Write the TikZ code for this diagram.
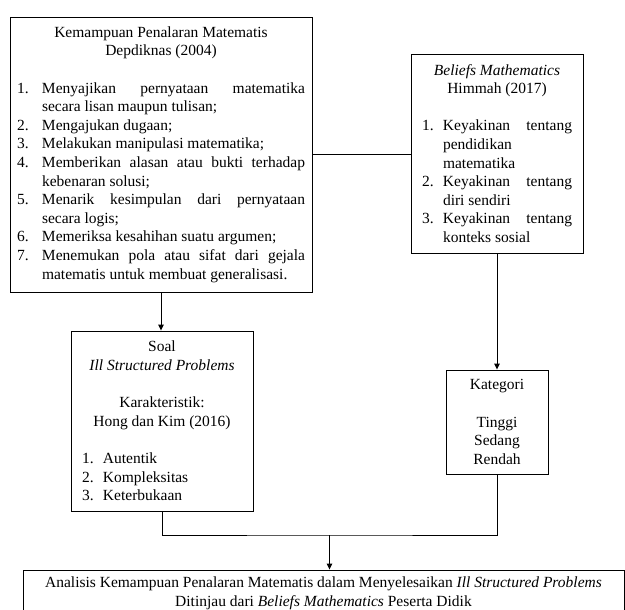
\documentclass[tikz,border=0pt]{standalone}
\usepackage{fontspec}
\setmainfont{Liberation Serif}
\usetikzlibrary{arrows.meta}
\setlength{\parindent}{0pt}
\tolerance=10000
\hbadness=10000
\hyphenpenalty=10000
\exhyphenpenalty=10000
% nomor butir dengan indentasi gantung
\newcommand{\butir}[3]{\par\hangindent=#1\hangafter=1\noindent\makebox[#1][l]{#2}#3\par}
\tikzset{
  kotak/.style={draw, line width=0.9pt, inner sep=0pt, font=\fontsize{15.5}{18.6}\selectfont},
  garis/.style={line width=0.9pt},
}
\begin{document}
\begin{tikzpicture}[x=1pt, y=-1pt, >={Triangle[length=6pt, width=5.5pt]}]
    \useasboundingbox (0,0) rectangle (625,610);
    \clip (0,0) rectangle (625,610);
    % kemampuan penalaran
    \node[kotak, minimum width=302pt, minimum height=275pt, text width=288pt, align=justify] (kemampuan) at (161,154.5) {%
        {\centering Kemampuan Penalaran Matematis\\ Depdiknas (2004)\par}
        \mbox{}\par
        \butir{25pt}{1.}{Menyajikan pernyataan matematika\linebreak secara lisan maupun tulisan;}
        \butir{25pt}{2.}{Mengajukan dugaan;}
        \butir{25pt}{3.}{Melakukan manipulasi matematika;}
        \butir{25pt}{4.}{Memberikan alasan atau bukti terhadap\linebreak kebenaran solusi;}
        \butir{25pt}{5.}{Menarik kesimpulan dari pernyataan\linebreak secara logis;}
        \butir{25pt}{6.}{Memeriksa kesahihan suatu argumen;}
        \butir{25pt}{7.}{Menemukan pola atau sifat dari gejala\linebreak matematis untuk membuat generalisasi.}
    };
    % beliefs mathematics
    \node[kotak, minimum width=172pt, minimum height=199pt, text width=150pt, align=justify] (beliefs) at (497,153.5) {%
        {\centering \textit{Beliefs Mathematics}\\ Himmah (2017)\par}
        \mbox{}\par
        \butir{21pt}{1.}{Keyakinan tentang\linebreak pendidikan matematika}
        \butir{21pt}{2.}{Keyakinan tentang\linebreak diri sendiri}
        \butir{21pt}{3.}{Keyakinan tentang\linebreak konteks sosial}
    };
    % soal
    \node[kotak, minimum width=182pt, minimum height=180pt, text width=160pt, align=justify] (soal) at (162,421) {%
        {\centering Soal\\ \textit{Ill Structured Problems}\\[18.6pt] Karakteristik:\\ Hong dan Kim (2016)\par}
        \mbox{}\par
        \butir{21pt}{1.}{Autentik}
        \butir{21pt}{2.}{Kompleksitas}
        \butir{21pt}{3.}{Keterbukaan}
    };
    % kategori
    \node[kotak, minimum width=102pt, minimum height=104pt, align=center] (kategori) at (497,422) {Kategori\\[18.6pt] Tinggi\\ Sedang\\ Rendah};
    % analisis
    \node[kotak, minimum width=601pt, minimum height=46pt, align=center] (analisis) at (323.5,593) {Analisis Kemampuan Penalaran Matematis dalam Menyelesaikan \textit{Ill Structured Problems}\\ Ditinjau dari \textit{Beliefs Mathematics} Peserta Didik};
    \coordinate (temu) at (329.5,535);
    \draw[garis, ->] (kemampuan.south) -- (kemampuan.south |- soal.north);
    \draw[garis] (kemampuan.east) -- (kemampuan.east -| beliefs.west);
    \draw[garis, ->] (beliefs.south) -- (kategori.north);
    \draw[garis] (soal.south) |- (temu) -| (kategori.south);
    \draw[garis, ->] (temu) -- (temu |- analisis.north);
\end{tikzpicture}
\end{document}
